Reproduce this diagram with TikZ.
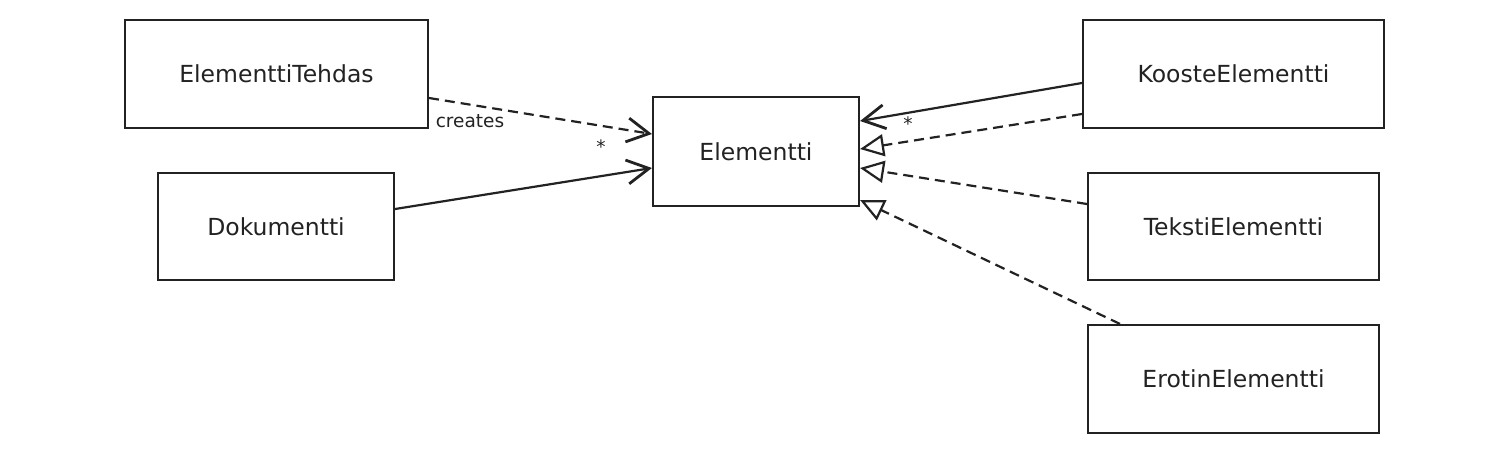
\documentclass[tikz,border=0pt]{standalone}
\usepackage{fontspec}
\setmainfont{DejaVu Sans}
\usetikzlibrary{arrows.meta}
\definecolor{ink}{HTML}{222222}
\tikzset{
  umlbox/.style={draw=ink, line width=2.1pt, inner sep=0pt, font=\fontsize{23.5}{27}\selectfont, text=ink},
  conn/.style={draw=ink, line width=2.2pt},
  dep/.style={conn, dash pattern=on 10pt off 6pt, -{Straight Barb[length=22pt,width=24pt,line width=2.8pt]}},
  assoc/.style={conn, -{Straight Barb[length=22pt,width=24pt,line width=2.8pt]}},
  real/.style={conn, dash pattern=on 10pt off 6pt, -{Triangle[open,length=24pt,width=22pt,line width=2.2pt,fill=white]}},
  lbl/.style={font=\fontsize{18.5}{22}\selectfont, text=ink, inner sep=0pt}
}
\begin{document}
\begin{tikzpicture}[x=1pt,y=-1pt]
\useasboundingbox (0,0) rectangle (1492,448);
\node[umlbox, minimum width=303pt, minimum height=108pt] (tehdas) at (276.5,74) {ElementtiTehdas};
\node[umlbox, minimum width=236pt, minimum height=107pt] (dok) at (276,226.5) {Dokumentti};
\node[umlbox, minimum width=206pt, minimum height=109pt] (elem) at (756,151.5) {Elementti};
\node[umlbox, minimum width=301pt, minimum height=108pt] (kooste) at (1233.5,74) {KoosteElementti};
\node[umlbox, minimum width=291pt, minimum height=107pt] (teksti) at (1233.5,226.5) {TekstiElementti};
\node[umlbox, minimum width=291pt, minimum height=108pt] (erotin) at (1233.5,379) {ErotinElementti};

\draw[dep] (tehdas.east |- 0,98) -- (elem.west |- 0,134);
\draw[assoc] (dok.east |- 0,209) -- (elem.west |- 0,168);
\draw[assoc] (kooste.west |- 0,83) -- (elem.east |- 0,121);
\draw[real] (kooste.west |- 0,114) -- (elem.east |- 0,149);
\draw[real] (teksti.west |- 0,204) -- (elem.east |- 0,168);
\draw[real] (erotin.north -| 1120,0) -- (elem.east |- 0,200);

\node[lbl] (creates) at (470,121) {creates};
\node[lbl] (star1) at (601,147) {*};
\node[lbl] (star2) at (908,124) {*};
\end{tikzpicture}
\end{document}
